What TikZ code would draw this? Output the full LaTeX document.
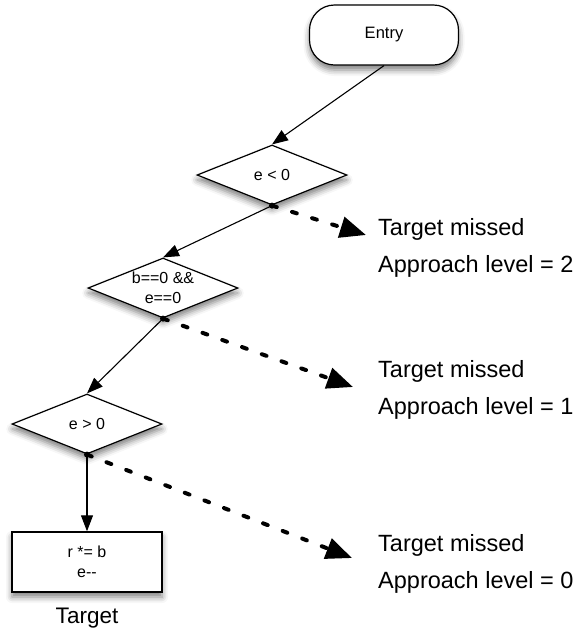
\documentclass[tikz,border=0pt]{standalone}
\usepackage{fontspec}
\setmainfont{Liberation Sans}
\usetikzlibrary{shapes.geometric,arrows.meta,shadows.blur}
\begin{document}
\begin{tikzpicture}[x=1pt,y=-1pt,
  soft/.style={blur shadow={shadow xshift=0pt,shadow yshift=-5pt,shadow blur radius=6pt,shadow opacity=50}},
  startbox/.style={draw,line width=1.2pt,fill=white,rounded corners=25pt,
    minimum width=149pt,minimum height=60pt,inner sep=0pt,
    font=\fontsize{16.5}{18}\selectfont,soft},
  decision/.style={diamond,draw,line width=1.2pt,fill=white,aspect=2.5,
    minimum width=150pt,minimum height=60pt,inner sep=0pt,
    font=\fontsize{16}{20}\selectfont,soft},
  stmt/.style={rectangle,draw,line width=1.4pt,fill=white,
    minimum width=150pt,minimum height=60pt,inner sep=0pt,align=center,
    font=\fontsize{16}{20}\selectfont,soft},
  flow/.style={line width=1.1pt,-{Triangle[length=16pt,width=12pt]}},
  miss/.style={line width=4pt,line cap=round,dash pattern=on 5pt off 16pt,
    -{Triangle[length=26pt,width=21pt]}},
  note/.style={anchor=west,inner sep=0pt,align=left,font=\fontsize{23.5}{37}\selectfont},
  caption/.style={inner sep=0pt,font=\fontsize{22.5}{26}\selectfont}
]
\useasboundingbox (0,0) rectangle (581,633);

% flow-graph nodes
\node[startbox] (entry) at (384,35) {Entry};
\node[decision] (d1) at (272,175) {e < 0};
\node[decision,label={[align=center,font=\fontsize{16}{20}\selectfont]center:{b==0 \&\&\\e==0}}] (d2) at (163,288) {};
\node[decision] (d3) at (87,424) {e > 0};
\node[stmt] (target) at (87,562) {r *= b\\e-\kern0pt-};
\node[caption] (targetcap) at (87,618) {Target};

% true branches
\draw[flow] (entry.south) -- (d1.north);
\draw[flow] (d1.south) -- (d2.north);
\draw[flow] (d2.south) -- (d3.north);
\draw[flow] (d3.south) -- (target.north);

% false branches leaving the path to the target
\coordinate (m1) at (366,235);
\coordinate (m2) at (353,387);
\coordinate (m3) at (352,558);
\draw[miss] (d1.south) -- (m1);
\draw[miss] (d2.south) -- (m2);
\draw[miss] (d3.south) -- (m3);
\fill (d1.south) circle (3pt);
\fill (d2.south) circle (3pt);
\fill (d3.south) circle (3pt);

% approach levels
\node[note] (n1) at (378,248) {Target missed\\Approach level = 2};
\node[note] (n2) at (378,390) {Target missed\\Approach level = 1};
\node[note] (n3) at (378,564) {Target missed\\Approach level = 0};
\end{tikzpicture}
\end{document}
